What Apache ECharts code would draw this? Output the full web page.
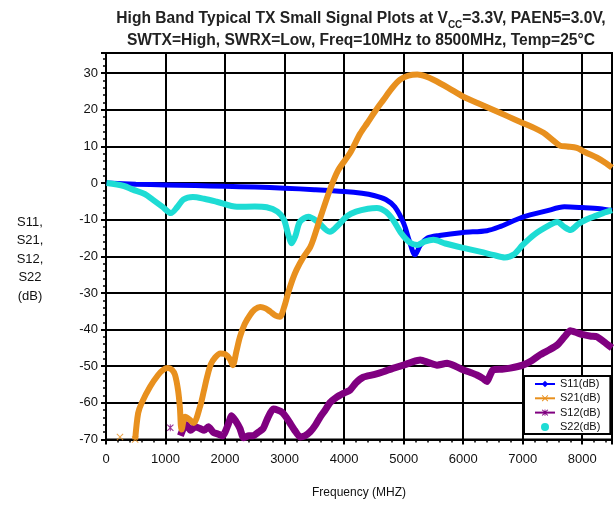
<!DOCTYPE html>
<html>
<head>
<meta charset="utf-8">
<script src="https://cdn.jsdelivr.net/npm/echarts@6/dist/echarts.min.js"></script>
<style>html,body{margin:0;padding:0;background:#fff}#c{width:616px;height:506px}</style>
</head>
<body>
<div id="c"></div>
<script>
// ---- Data (frequency in MHz, values in dB) ----
const xTicks = [0, 1000, 2000, 3000, 4000, 5000, 6000, 7000, 8000];
const yTicks = [-70, -60, -50, -40, -30, -20, -10, 0, 10, 20, 30];

const s11Freq = [10, 500, 1000, 1500, 2000, 2500, 3000, 3500, 4000, 4300, 4500, 4700, 4850, 5000, 5100, 5190, 5280, 5400, 5600, 6000, 6400, 6600, 7000, 7400, 7700, 8000, 8300, 8500];
const s11Val  = [0, -0.3, -0.5, -0.7, -0.9, -1.1, -1.4, -1.8, -2.3, -2.8, -3.4, -4.5, -6.5, -11, -16, -19.6, -17, -15, -14.3, -13.5, -13, -12, -9.3, -7.6, -6.5, -6.7, -7, -7.5];

const s21Freq = [490, 540, 600, 740, 875, 960, 1040, 1110, 1160, 1210, 1240, 1270, 1330, 1400, 1470, 1580, 1640, 1700, 1760, 1830, 1920, 2000, 2080, 2130, 2190, 2250, 2330, 2420, 2500, 2590, 2680, 2760, 2850, 2920, 2990, 3060, 3130, 3200, 3310, 3430, 3480, 3600, 3760, 3900, 4100, 4270, 4390, 4530, 4660, 4800, 4940, 5080, 5230, 5370, 5500, 5750, 6000, 6250, 6500, 6750, 7000, 7200, 7350, 7500, 7630, 7750, 7910, 8050, 8250, 8400, 8500];
const s21Val  = [-70, -62.8, -60, -55.6, -52.4, -51, -50.5, -51, -52.4, -56.5, -61, -67.3, -63.8, -64.5, -65.5, -61, -57, -52.8, -49.5, -47.7, -46.5, -46.7, -48, -49.7, -46, -42, -38.5, -36, -34.5, -33.8, -34.2, -35.1, -36.2, -36.5, -34, -30, -26.5, -23.7, -20.4, -17.5, -15.5, -9.5, -1.9, 3.5, 8.2, 13.5, 16.4, 19.8, 22.7, 25.8, 28.2, 29.3, 29.6, 29.1, 28.2, 26, 23.6, 21.8, 20, 18.2, 16.4, 15, 13.7, 11.8, 10.2, 10, 9.6, 8.4, 6.9, 5.4, 4.2];
const s21IsoFreq = [235, 490];
const s21IsoVal  = [-69.3, -70];

const s12Freq = [1250, 1300, 1350, 1420, 1500, 1580, 1650, 1720, 1800, 1880, 1960, 2050, 2110, 2180, 2250, 2310, 2400, 2470, 2560, 2640, 2720, 2810, 2890, 2960, 3030, 3090, 3170, 3260, 3340, 3430, 3520, 3600, 3680, 3760, 3870, 3990, 4100, 4200, 4320, 4500, 4660, 4830, 5000, 5150, 5280, 5420, 5560, 5730, 5870, 6000, 6120, 6230, 6330, 6400, 6450, 6500, 6650, 6790, 7000, 7150, 7290, 7450, 7580, 7700, 7800, 7900, 8020, 8150, 8250, 8400, 8500];
const s12Val  = [-69, -67, -66, -67.5, -66.5, -67, -67.5, -66.5, -68, -68.5, -69, -66, -63.5, -65, -67, -69.5, -69, -69, -68, -67, -64, -61.7, -62, -62.6, -64, -65.5, -67.5, -69.3, -69, -67.9, -66, -63.8, -62, -60, -58.5, -57.4, -56.5, -54.5, -53, -52.3, -51.5, -50.5, -49.7, -48.8, -48.3, -49, -49.7, -49.2, -50, -51, -51.7, -52.4, -53.3, -54.2, -52.5, -51, -50.8, -50.5, -49.7, -48.5, -46.9, -45.5, -44.2, -42, -40.3, -40.8, -41.4, -41.8, -42, -43.8, -45];
const s12IsoFreq = [1080];
const s12IsoVal  = [-66.8];

const s22Freq = [10, 300, 450, 650, 790, 950, 1090, 1200, 1300, 1460, 1650, 1860, 2200, 2500, 2700, 2880, 2990, 3060, 3120, 3180, 3260, 3400, 3550, 3760, 3900, 4050, 4200, 4400, 4550, 4700, 4820, 4950, 5100, 5230, 5350, 5500, 5700, 6000, 6300, 6500, 6700, 6850, 7000, 7200, 7450, 7580, 7700, 7800, 7950, 8140, 8350, 8500];
const s22Val  = [0, -0.8, -1.8, -3, -4.6, -6.5, -8.2, -6.5, -4.5, -3.8, -4.3, -5.1, -6.5, -6.4, -6.6, -7.8, -10, -14, -16.4, -14.5, -10.5, -9.2, -10.5, -13.3, -11.5, -9, -7.8, -7, -6.8, -7.8, -10, -13.5, -16.2, -16.9, -16, -15.5, -16.5, -17.7, -18.8, -19.6, -20.3, -19.5, -16.9, -14, -11.5, -10.6, -12, -12.8, -11, -9.5, -8.2, -7.4];

const names = ['S11(dB)', 'S21(dB)', 'S12(dB)', 'S22(dB)'];

// ---- Build ----
const pairs = (xs, ys) => xs.map((x, i) => [x, ys[i]]);
const FONT = 'Liberation Sans';
const xMark = 'path://M1,0L5,4L9,0L10,1L6,5L10,9L9,10L5,6L1,10L0,9L4,5L0,1Z';
const starMark = 'path://M1,0L5,3.5L9,0L10,1L6,5L10,9L9,10L5,6.5L1,10L0,9L4,5L0,1Z M4.3,0H5.7V10H4.3Z';

const chart = echarts.init(document.getElementById('c'), null, {renderer: 'canvas'});
chart.setOption({
  animation: false,
  backgroundColor: '#fff',
  title: {
    left: 356, top: 3, textAlign: 'center',
    text: '{t|High Band Typical TX Small Signal Plots at V}{s|CC}{t|=3.3V, PAEN5=3.0V,}\n{t|SWTX=High, SWRX=Low, Freq=10MHz to 8500MHz, Temp=25°C}',
    textStyle: {
      rich: {
        t: {fontFamily: FONT, fontSize: 15.6, fontWeight: 'bold', color: '#222', lineHeight: 22},
        s: {fontFamily: FONT, fontSize: 10, fontWeight: 'bold', color: '#222', lineHeight: 14, verticalAlign: 'bottom'}
      }
    }
  },
  grid: {left: 106, right: 4, top: 53, bottom: 66.5, show: true, borderColor: '#000', borderWidth: 2, backgroundColor: 'transparent'},
  legend: {
    orient: 'vertical', left: 524, top: 376,
    data: [{name: names[0]}, {name: names[1]}, {name: names[2]}, {name: names[3], icon: 'circle'}],
    itemWidth: 20, itemHeight: 8, itemGap: 2.3,
    padding: [2, 10, 1, 10],
    backgroundColor: '#fff', borderColor: '#000', borderWidth: 2,
    textStyle: {fontFamily: FONT, fontSize: 11, color: '#111', lineHeight: 12}
  },
  xAxis: {
    type: 'value', min: 0, max: 8500, interval: 1000,
    axisLine: {show: true, onZero: false, lineStyle: {color: '#000', width: 2}},
    axisTick: {show: true, length: 5, lineStyle: {color: '#000', width: 2}},
    minorTick: {show: true, splitNumber: 5, length: 3, lineStyle: {color: '#000', width: 1.5}},
    splitLine: {show: true, lineStyle: {color: '#000', width: 2}},
    axisLabel: {margin: 13, fontFamily: FONT, fontSize: 13, color: '#111',
      formatter: v => xTicks.indexOf(v) >= 0 ? String(v) : ''}
  },
  yAxis: {
    type: 'value', min: -70, max: 35.5, interval: 10,
    axisLine: {show: true, onZero: false, lineStyle: {color: '#000', width: 2}},
    axisTick: {show: true, length: 5, lineStyle: {color: '#000', width: 2}},
    minorTick: {show: true, splitNumber: 5, length: 3, lineStyle: {color: '#000', width: 1.5}},
    splitLine: {show: true, lineStyle: {color: '#000', width: 2}},
    axisLabel: {margin: 8, fontFamily: FONT, fontSize: 13, color: '#111',
      formatter: v => yTicks.indexOf(v) >= 0 ? String(v) : ''}
  },
  graphic: [
    {type: 'text', x: 30, y: 259, style: {text: 'S11,\nS21,\nS12,\nS22\n(dB)', fontFamily: FONT, fontSize: 13, fill: '#111', align: 'center', verticalAlign: 'middle', lineHeight: 18.5}},
    {type: 'text', x: 359, y: 493, style: {text: 'Frequency (MHZ)', fontFamily: FONT, fontSize: 12, fill: '#111', align: 'center', verticalAlign: 'middle'}}
  ],
  series: [
    {name: names[0], type: 'line', data: pairs(s11Freq, s11Val), smooth: 0.3, showSymbol: false, symbol: 'diamond',
      lineStyle: {color: '#0000ff', width: 5}, itemStyle: {color: '#0000ff'}, z: 2},
    {name: names[1], type: 'line', data: pairs(s21Freq, s21Val), smooth: 0.3, showSymbol: false, symbol: xMark,
      lineStyle: {color: '#e8901e', width: 6}, itemStyle: {color: '#e8901e'}, z: 3},
    {name: names[1], type: 'scatter', data: pairs(s21IsoFreq, s21IsoVal), symbol: xMark, symbolSize: 7,
      itemStyle: {color: '#e8901e'}, z: 3},
    {name: names[2], type: 'line', data: pairs(s12Freq, s12Val), smooth: 0.2, showSymbol: false, symbol: starMark,
      lineStyle: {color: '#800080', width: 7}, itemStyle: {color: '#800080'}, z: 2},
    {name: names[2], type: 'scatter', data: pairs(s12IsoFreq, s12IsoVal), symbol: starMark, symbolSize: 7,
      itemStyle: {color: '#800080'}, z: 2},
    {name: names[3], type: 'line', data: pairs(s22Freq, s22Val), smooth: 0.3, showSymbol: false, symbol: 'circle',
      lineStyle: {color: '#1edcd4', width: 6}, itemStyle: {color: '#1edcd4'}, z: 2}
  ]
});
</script>
</body>
</html>
